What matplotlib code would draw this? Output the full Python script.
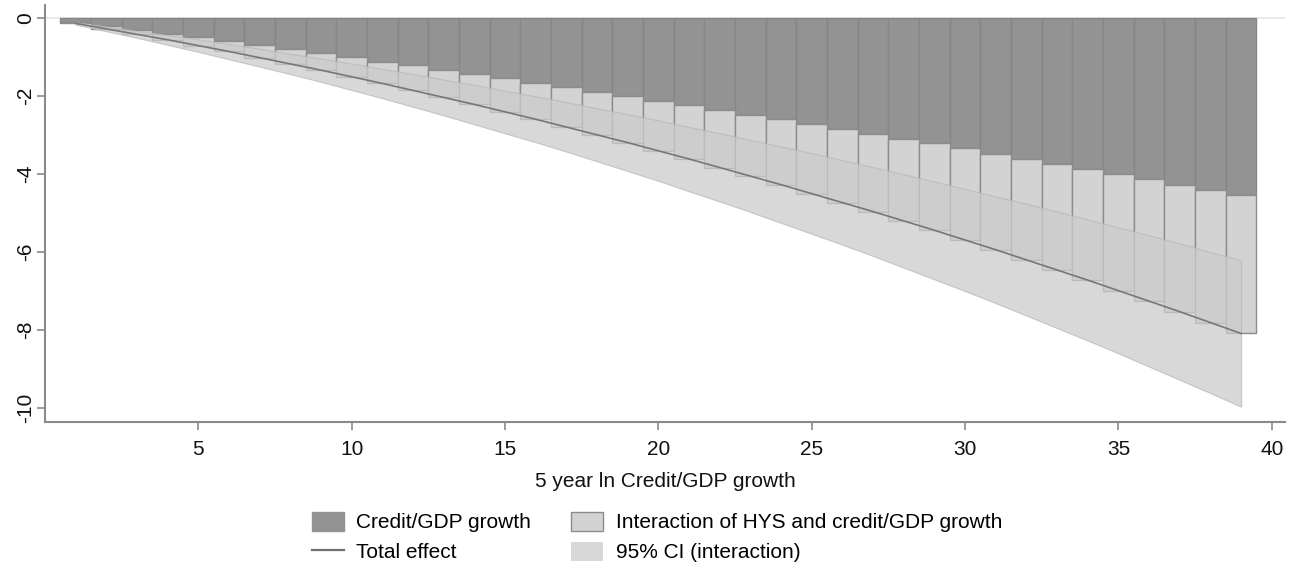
import numpy as np
import matplotlib.pyplot as plt
from matplotlib.patches import Patch
from matplotlib.lines import Line2D

plt.rcParams['font.family'] = ['Liberation Sans', 'DejaVu Sans']

# 5 year ln credit/GDP growth (bar positions)
growth = np.arange(1, 40)

# effect of credit/GDP growth alone (dark bars)
credit = [-0.09, -0.19, -0.29, -0.39, -0.49, -0.59, -0.69, -0.79, -0.90, -1.00,
          -1.11, -1.21, -1.32, -1.43, -1.54, -1.65, -1.77, -1.88, -2.00, -2.11,
          -2.23, -2.35, -2.47, -2.59, -2.71, -2.84, -2.96, -3.09, -3.21, -3.34,
          -3.47, -3.60, -3.73, -3.86, -4.00, -4.13, -4.27, -4.40, -4.54]

# total effect (credit + interaction), bottom of the light bars
total = [-0.13, -0.27, -0.41, -0.55, -0.70, -0.85, -1.01, -1.17, -1.33, -1.50,
         -1.67, -1.85, -2.03, -2.21, -2.40, -2.59, -2.79, -2.99, -3.19, -3.40,
         -3.61, -3.83, -4.05, -4.27, -4.50, -4.73, -4.96, -5.20, -5.44, -5.69,
         -5.94, -6.20, -6.46, -6.72, -6.99, -7.26, -7.53, -7.81, -8.09]

# 95% CI of the interaction, shifted by the credit effect
ci_hi = [-0.10, -0.21, -0.32, -0.43, -0.54, -0.66, -0.78, -0.91, -1.03, -1.16,
         -1.30, -1.43, -1.57, -1.71, -1.86, -2.00, -2.15, -2.31, -2.46, -2.62,
         -2.79, -2.95, -3.12, -3.29, -3.46, -3.64, -3.82, -4.00, -4.19, -4.38,
         -4.57, -4.76, -4.96, -5.16, -5.37, -5.57, -5.78, -6.00, -6.21]
ci_lo = [-0.16, -0.33, -0.50, -0.68, -0.86, -1.05, -1.24, -1.43, -1.63, -1.84,
         -2.05, -2.27, -2.49, -2.72, -2.95, -3.18, -3.42, -3.67, -3.92, -4.17,
         -4.44, -4.70, -4.97, -5.25, -5.53, -5.81, -6.10, -6.40, -6.70, -7.00,
         -7.31, -7.63, -7.95, -8.27, -8.60, -8.94, -9.28, -9.62, -9.97]

credit = np.array(credit)
total = np.array(total)
interaction = total - credit

fig = plt.figure(figsize=(12.93, 5.68), dpi=100)
ax = fig.add_axes([0.0348, 0.2565, 0.959, 0.7345])

dark = '#939393'
light = '#d3d3d3'

# zero line
ax.axhline(0, color='#e6e6e6', lw=1.2, zorder=0)

# stacked bars
ax.bar(growth, credit, width=1.0, color=dark, edgecolor='#868686', lw=1.0, zorder=2)
ax.bar(growth, interaction, bottom=credit, width=1.0, color=light,
       edgecolor='#8c8c8c', lw=1.0, zorder=2)

# confidence band on top
ax.fill_between(growth, ci_lo, ci_hi, facecolor='#cccccc', alpha=0.75,
                edgecolor='#b8b8b8', lw=0.8, zorder=3)

# total effect line
ax.plot(growth, total, color='#777777', lw=1.2, zorder=4)

ax.set_xlim(0, 40.43)
ax.set_ylim(-10.37, 0.34)
ax.set_xticks([5, 10, 15, 20, 25, 30, 35, 40])
ax.set_yticks([0, -2, -4, -6, -8, -10])
ax.set_yticklabels(['0', '-2', '-4', '-6', '-8', '-10'], rotation=90, va='center')
ax.tick_params(axis='both', labelsize=15, colors='#8a8a8a', labelcolor='#111111',
               length=6, width=1.2)
ax.tick_params(axis='y', pad=1)
ax.tick_params(axis='x', pad=7)
ax.set_xlabel('5 year ln Credit/GDP growth', fontsize=15, color='#111111', labelpad=9)

for side in ['top', 'right']:
    ax.spines[side].set_visible(False)
for side in ['left', 'bottom']:
    ax.spines[side].set_color('#8a8a8a')
    ax.spines[side].set_linewidth(1.5)

handles = [
    Patch(facecolor=dark, edgecolor=dark),
    Line2D([], [], color='#707070', lw=1.6),
    Patch(facecolor=light, edgecolor='#8c8c8c', lw=1.0),
    Patch(facecolor='#cccccc', alpha=0.75, edgecolor='none'),
]
labels = ['Credit/GDP growth', 'Total effect',
          'Interaction of HYS and credit/GDP growth', '95% CI (interaction)']
fig.legend(handles, labels, loc='upper center', bbox_to_anchor=(0.508, 0.114),
           ncol=2, frameon=False, fontsize=15, handlelength=1.55, handleheight=1.05,
           columnspacing=1.9, handletextpad=0.6, labelspacing=0.45,
           borderaxespad=0)

fig.savefig('out.png', dpi=100)
